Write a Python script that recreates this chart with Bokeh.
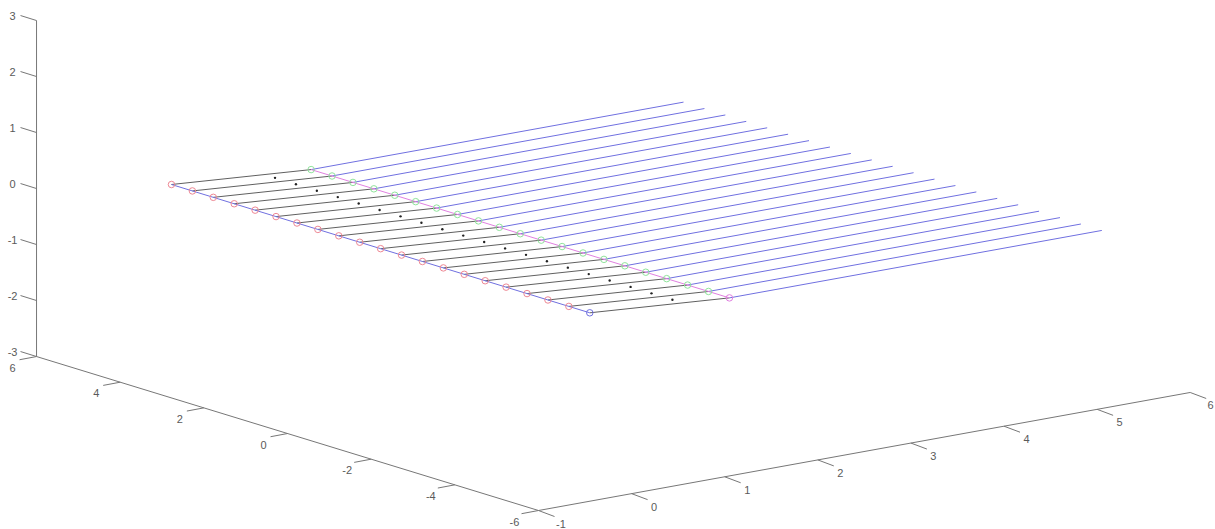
from bokeh.plotting import figure
from bokeh.models import Range1d
from bokeh.core.properties import value
from bokeh.embed import file_html
from bokeh.resources import INLINE

# ---- data (3-D vortex lattice geometry) ----
span_y = [5.0, 4.5, 4.0, 3.5, 3.0, 2.5, 2.0, 1.5, 1.0, 0.5, 0.0,
          -0.5, -1.0, -1.5, -2.0, -2.5, -3.0, -3.5, -4.0, -4.5, -5.0]
control_y = [4.75, 4.25, 3.75, 3.25, 2.75, 2.25, 1.75, 1.25, 0.75, 0.25,
             -0.25, -0.75, -1.25, -1.75, -2.25, -2.75, -3.25, -3.75, -4.25, -4.75]
chord_x = [0.0, 1.5]
chord_z = [0.0, -0.185]
wake_x = [1.5, 5.5]
wake_z = [-0.185, -0.185]
control_x = 1.0
control_z = -0.125

x_ticks = [-1, 0, 1, 2, 3, 4, 5, 6]
y_ticks = [6, 4, 2, 0, -2, -4, -6]
z_ticks = [3, 2, 1, 0, -1, -2, -3]
x_lim = (-1, 6)
y_lim = (-6, 6)
z_lim = (-3, 3)

# ---- oblique projection of the 3-D axes onto the page ----
W, H = 1215, 529
X0, Y0 = 538.0, 510.0   # page position of the corner (x=-1, y=-6, z=-3)
XX, XY = 93.1, -16.86
YX, YY = -41.83, -12.83
ZY = -56.0


def proj(x, y, z):
    return (X0 + XX * (x - x_lim[0]) + YX * (y - y_lim[0]),
            Y0 + XY * (x - x_lim[0]) + YY * (y - y_lim[0]) + ZY * (z - z_lim[0]))


p = figure(width=W, height=H, output_backend="svg", toolbar_location=None,
           x_range=Range1d(0, W), y_range=Range1d(H, 0),
           min_border=0, outline_line_color=None)
p.axis.visible = False
p.grid.visible = False

AXC = "#777777"
TXT = "#5a5a5a"


def seg(a, b, **kw):
    p.line([a[0], b[0]], [a[1], b[1]], **kw)


# axes
seg(proj(x_lim[0], y_lim[0], z_lim[0]), proj(x_lim[1], y_lim[0], z_lim[0]), line_color=AXC, line_width=1)
seg(proj(x_lim[0], y_lim[0], z_lim[0]), proj(x_lim[0], y_lim[1], z_lim[0]), line_color=AXC, line_width=1)
seg(proj(x_lim[0], y_lim[1], z_lim[0]), proj(x_lim[0], y_lim[1], z_lim[1]), line_color=AXC, line_width=1)

tick_txt = dict(text_font=value("Liberation Sans"), text_font_size="11px", text_color=TXT,
                text_align="center", text_baseline="middle")

for t in x_ticks:
    a = proj(t, y_lim[0], z_lim[0])
    seg(a, (a[0] + 16, a[1] + 6), line_color=AXC, line_width=1)
    # the last label sits at the page edge: keep it whole
    lx = min(a[0] + 22.5, W - 5)
    p.text([lx], [a[1] + 13], text=[str(t)], **tick_txt)
for t in y_ticks:
    a = proj(x_lim[0], t, z_lim[0])
    seg(a, (a[0] - 17, a[1] + 3.2), line_color=AXC, line_width=1)
    p.text([a[0] - 24], [a[1] + 11], text=[str(t)], **tick_txt)
for t in z_ticks:
    a = proj(x_lim[0], y_lim[1], t)
    seg(a, (a[0] - 16, a[1] - 5), line_color=AXC, line_width=1)
    p.text([a[0] - 24], [a[1] - 5], text=[str(t)], **tick_txt)

# chord lines and wake lines
for y in span_y:
    pts = [proj(x, y, z) for x, z in zip(chord_x, chord_z)]
    p.line([q[0] for q in pts], [q[1] for q in pts], line_color="#606060", line_width=1)
    pts = [proj(x, y, z) for x, z in zip(wake_x, wake_z)]
    p.line([q[0] for q in pts], [q[1] for q in pts], line_color="#7070e0", line_width=1)

# leading and trailing edges
le = [proj(chord_x[0], y, chord_z[0]) for y in span_y]
te = [proj(chord_x[-1], y, chord_z[-1]) for y in span_y]
p.line([q[0] for q in le], [q[1] for q in le], line_color="#7070e0", line_width=1)
p.line([q[0] for q in te], [q[1] for q in te], line_color="#e080e0", line_width=1)

# nodes
p.scatter([q[0] for q in le[:-1]], [q[1] for q in le[:-1]], marker="circle", size=6.5,
          fill_color=None, line_color="#ee8894", line_width=1)
p.scatter([le[-1][0]], [le[-1][1]], marker="circle", size=6.5,
          fill_color=None, line_color="#7070e0", line_width=1)
p.scatter([q[0] for q in te[:-1]], [q[1] for q in te[:-1]], marker="circle", size=6.5,
          fill_color=None, line_color="#90e49c", line_width=1)
p.scatter([te[-1][0]], [te[-1][1]], marker="circle", size=6.5,
          fill_color=None, line_color="#e080e0", line_width=1)

# control points
cp = [proj(control_x, y, control_z) for y in control_y]
p.scatter([q[0] for q in cp], [q[1] for q in cp], marker="circle", size=2.4,
          fill_color="#222222", line_color=None)

open("out.html", "w").write(file_html(p, INLINE))
